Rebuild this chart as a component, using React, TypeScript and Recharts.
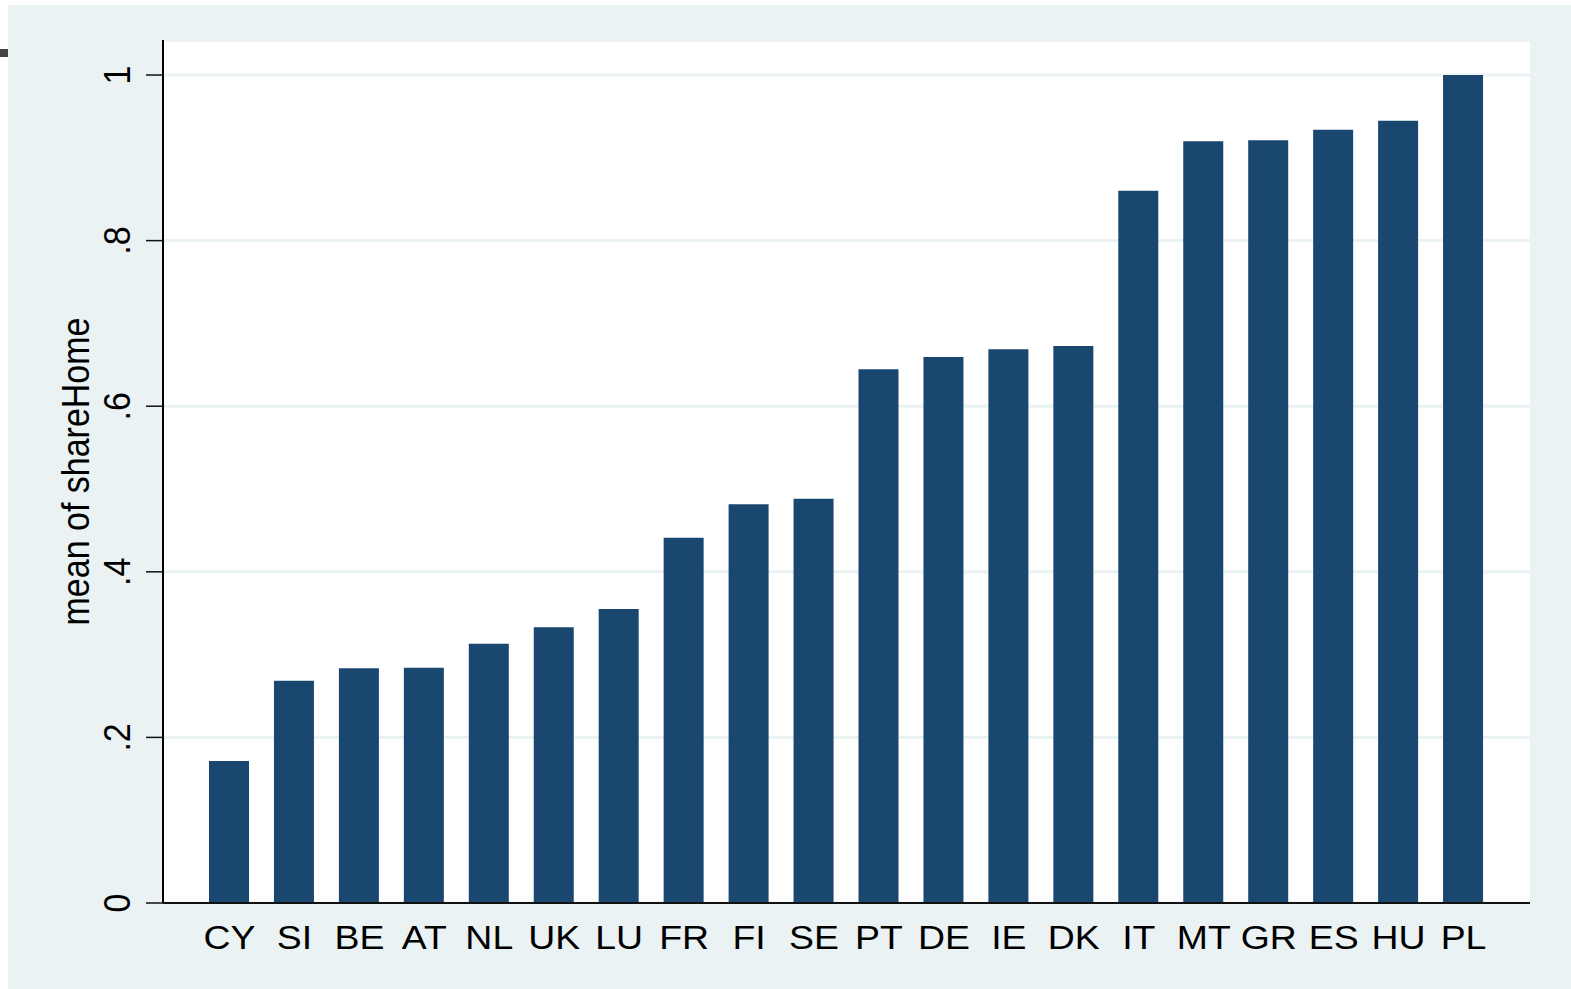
import { BarChart, Bar, XAxis, YAxis, CartesianGrid } from "recharts";

const countries = ["CY", "SI", "BE", "AT", "NL", "UK", "LU", "FR", "FI", "SE", "PT", "DE", "IE", "DK", "IT", "MT", "GR", "ES", "HU", "PL"];
const shareHome = [0.1715, 0.2685, 0.2835, 0.2842, 0.313, 0.333, 0.355, 0.441, 0.4815, 0.4883, 0.6445, 0.6594, 0.6687, 0.6727, 0.8603, 0.9199, 0.9211, 0.934, 0.9448, 1.0];
const yTicks = [0, 0.2, 0.4, 0.6, 0.8, 1];

const FONT = "'Liberation Sans', Arial, Helvetica, sans-serif";
const BAR_COLOR = "#1a476f";
const BG = "#eaf2f3";

const data = countries.map((c, i) => ({ country: c, shareHome: shareHome[i] }));

// Stata style: "0", ".2", ".4" ...
function fmtTick(v: number): string {
  if (v === 0) return "0";
  if (v === 1) return "1";
  return String(Math.round(v * 10) / 10).replace(/^0/, "");
}

function YTick(props: any) {
  const { x, y, payload } = props;
  return (
    <text
      transform={`translate(${x},${y}) scale(1.1,1) rotate(-90)`}
      textAnchor="middle"
      fontFamily={FONT}
      fontSize={34}
      fill="#000"
    >
      {fmtTick(payload.value)}
    </text>
  );
}

function XTick(props: any) {
  const { x, y, payload } = props;
  return (
    <text
      transform={`translate(${x},${y}) scale(1.1,1)`}
      textAnchor="middle"
      fontFamily={FONT}
      fontSize={34}
      fill="#000"
    >
      {payload.value}
    </text>
  );
}

function YLabel(props: any) {
  const vb = props.viewBox || { x: 0, y: 0, width: 0, height: 0 };
  const cy = vb.y + vb.height / 2;
  return (
    <text
      transform={`translate(${vb.x + 89},${cy}) scale(1.12,1) rotate(-90)`}
      textAnchor="middle"
      fontFamily={FONT}
      fontSize={34}
      fill="#000"
    >
      mean of shareHome
    </text>
  );
}

export default function App() {
  return (
    <div style={{ position: "absolute", left: 0, top: 0, width: 1571, height: 989, background: "#fff", overflow: "hidden" }}>
      <div style={{ position: "absolute", left: 8, top: 5, width: 1563, height: 984, background: BG }} />
      <div style={{ position: "absolute", left: 0, top: 49, width: 8, height: 8, background: "#444" }} />
      <div style={{ position: "absolute", left: 0, top: 0 }}>
        <BarChart
          width={1571}
          height={989}
          data={data}
          margin={{ top: 40, right: 41, bottom: 0, left: 0 }}
          barSize={40}
        >
          <CartesianGrid
            vertical={false}
            fill="#fff"
            stroke={BG}
            strokeWidth={3}
          />
          <XAxis
            dataKey="country"
            height={86}
            padding={{ left: 34, right: 34 }}
            tickLine={false}
            tickSize={0}
            tickMargin={46}
            interval={0}
            axisLine={{ stroke: "#111", strokeWidth: 2 }}
            tick={<XTick />}
          />
          <YAxis
            width={163}
            domain={[0, 1.0423]}
            ticks={yTicks}
            allowDataOverflow
            tickSize={17}
            tickMargin={16}
            tickLine={{ stroke: "#111", strokeWidth: 1.5 }}
            axisLine={{ stroke: "#000", strokeWidth: 2 }}
            tick={<YTick />}
            label={<YLabel />}
          />
          <Bar dataKey="shareHome" fill={BAR_COLOR} isAnimationActive={false} />
        </BarChart>
      </div>
    </div>
  );
}
